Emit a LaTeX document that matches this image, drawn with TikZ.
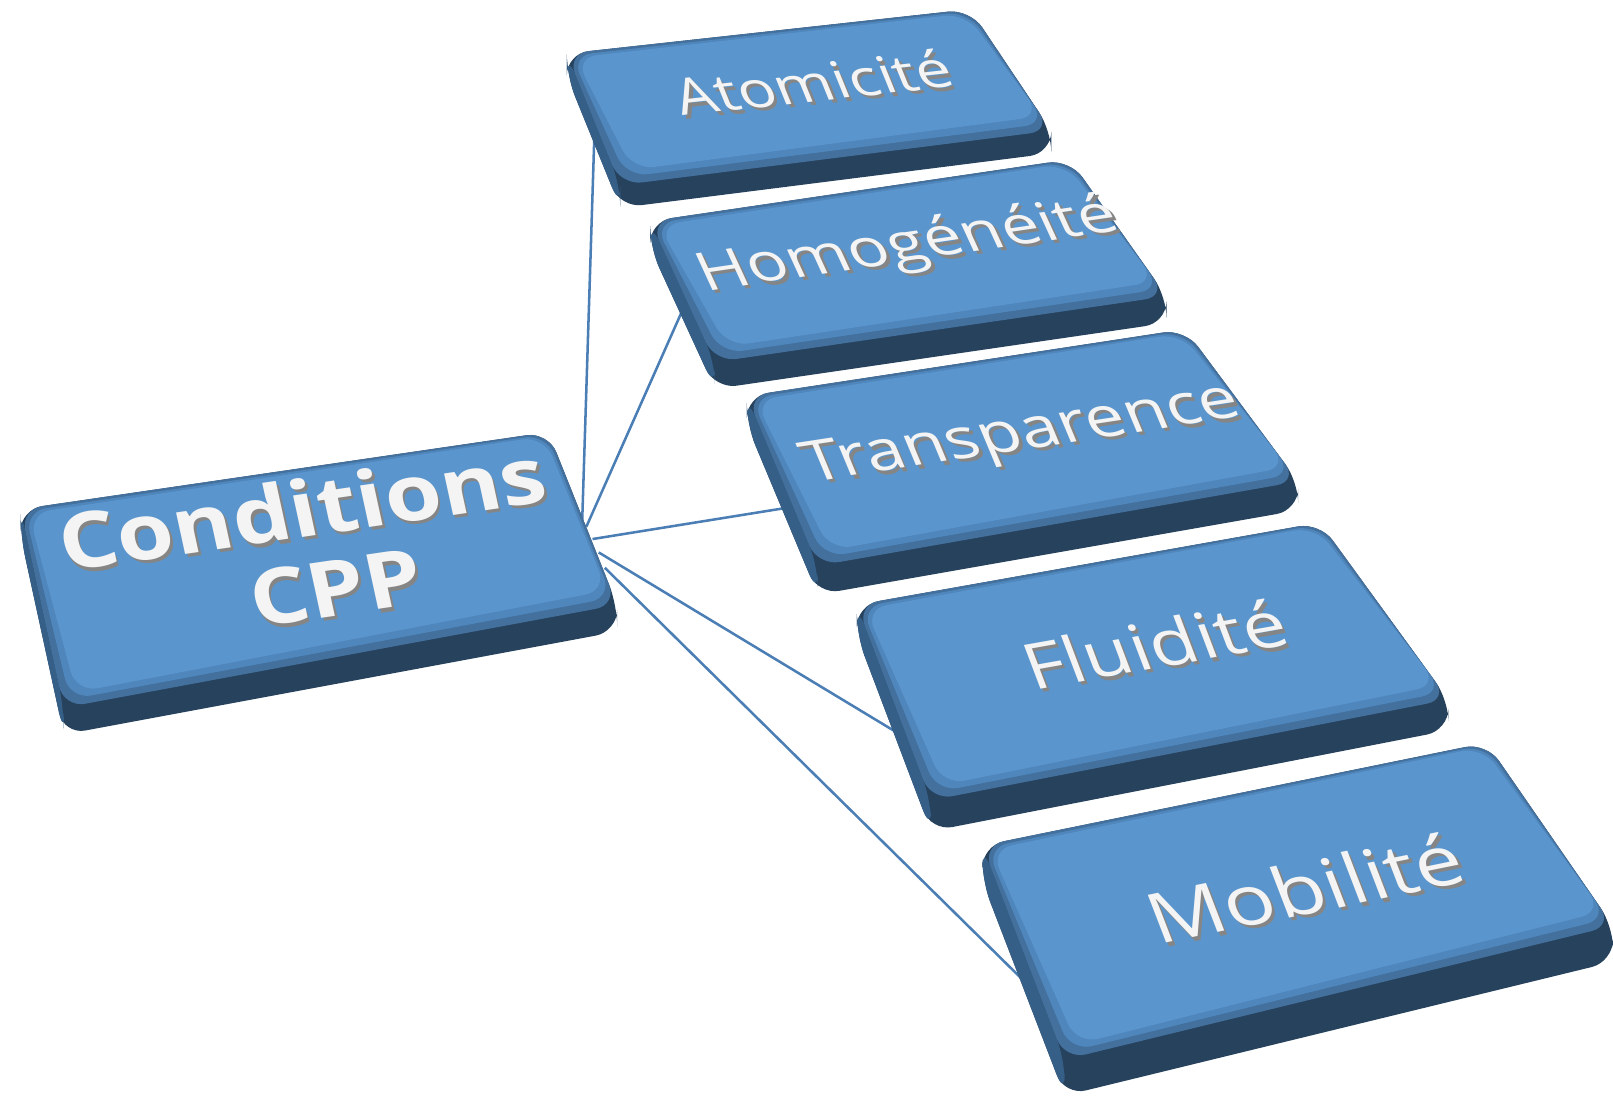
\documentclass[tikz,border=0pt]{standalone}
\usepackage{fontspec}
\setmainfont{Open Sans}
\usetikzlibrary{calc}
\definecolor{topc}{HTML}{5A96CD}
\definecolor{midc}{HTML}{4F86BC}
\definecolor{bevc}{HTML}{43709D}
\definecolor{leftc}{HTML}{365F88}
\definecolor{sidec}{HTML}{26425D}
\definecolor{linkc}{HTML}{4A7EB4}
\definecolor{txtc}{HTML}{F4F4F4}
\definecolor{shc}{HTML}{858585}
\tikzset{
  link/.style={linkc, line width=0.7pt},
  slabtxt/.style={text=txtc, inner sep=0pt, transform shape},
  shadtxt/.style={text=shc, inner sep=0pt, transform shape},
}
% #1 TL, #2 TR, #3 BR, #4 BL, #5 thickness
\newcommand\slab[5]{%
  \fill[sidec, rounded corners=6pt] (#1) -- (#2) -- (#3) -- ($(#3)+(0,#5)$) -- ($(#4)+(0,#5)$) -- ($(#1)+(0,#5)$) -- cycle;
  \fill[leftc, rounded corners=6pt] (#1) -- (#4) -- ($(#4)+(0,#5)$) -- ($(#1)+(0,#5)$) -- cycle;
  \fill[bevc, rounded corners=6pt] (#1) -- (#2) -- (#3) -- (#4) -- cycle;
  \fill[midc, rounded corners=6pt] ($(#1)+(4,2)$) -- ($(#2)+(-2,2)$) -- ($(#3)+(-5,-7)$) -- ($(#4)+(6,-8)$) -- cycle;
  \fill[topc, rounded corners=6pt] ($(#1)+(8,4)$) -- ($(#2)+(-4,4)$) -- ($(#3)+(-10,-14)$) -- ($(#4)+(12,-15)$) -- cycle;
}
% #1 name, #2 matrix a,b,c,d, #3 centre, #4 font, #5 text
\newcommand\slabtext[5]{%
  \begin{scope}[cm={#2,(#3)}]
    \node[shadtxt, font=#4, align=center] at (0.5pt,-1.3pt) {#5};
    \node[slabtxt, font=#4, align=center] (#1) at (0,0) {#5};
  \end{scope}
}
\begin{document}
\begin{tikzpicture}[x=0.01cm, y=-0.01cm]
\useasboundingbox (0,0) rectangle (1568,1069);
% connector end points
\coordinate (s1) at (566,505);  \coordinate (e1) at (578,125);
\coordinate (s2) at (570,512);  \coordinate (e2) at (665,298);
\coordinate (s3) at (576,524);  \coordinate (e3) at (775,492);
\coordinate (s4) at (582,537);  \coordinate (e4) at (885,720);
\coordinate (s5) at (588,552);  \coordinate (e5) at (1010,968);
\draw[link] (s1) -- (e1);
\draw[link] (s2) -- (e2);
\draw[link] (s3) -- (e3);
\draw[link] (s4) -- (e4);
\draw[link] (s5) -- (e5);
% slabs
\slab{551,52}{943,9}{1022,127}{603,180}{22}
\slab{632,215}{1040,155}{1134,288}{695,352}{26}
\slab{726,385}{1152,320}{1262,468}{795,550}{28}
\slab{833,588}{1283,508}{1408,680}{905,778}{30}
\slab{955,822}{1445,722}{1568,900}{1035,1030}{35}
\slab{20,495}{533,420}{600,588}{62,688}{26}
% texts
\slabtext{tA}{0.9940,0.1090,-0.3199,0.7873}{790,80}{\fontsize{17.3}{20}\selectfont}{Atomicité}
\slabtext{tH}{0.9893,0.1455,-0.3551,0.7722}{883,240}{\fontsize{18.4}{21}\selectfont}{Homogénéité}
\slabtext{tT}{0.9886,0.1508,-0.3280,0.7844}{994,424}{\fontsize{19.2}{22}\selectfont}{Transparence}
\slabtext{tF}{0.9845,0.1750,-0.3012,0.7948}{1122,626}{\fontsize{21.3}{24}\selectfont}{Fluidité}
\slabtext{tM}{0.9798,0.2000,-0.3051,0.7932}{1268,863}{\fontsize{23.2}{26}\selectfont}{Mobilité}
\slabtext{tC}{0.9894,0.1446,-0.1808,0.8306}{302,533}{\fontsize{25.3}{27}\selectfont\bfseries}{Conditions\\\hspace*{9pt}CPP}
\end{tikzpicture}
\end{document}
